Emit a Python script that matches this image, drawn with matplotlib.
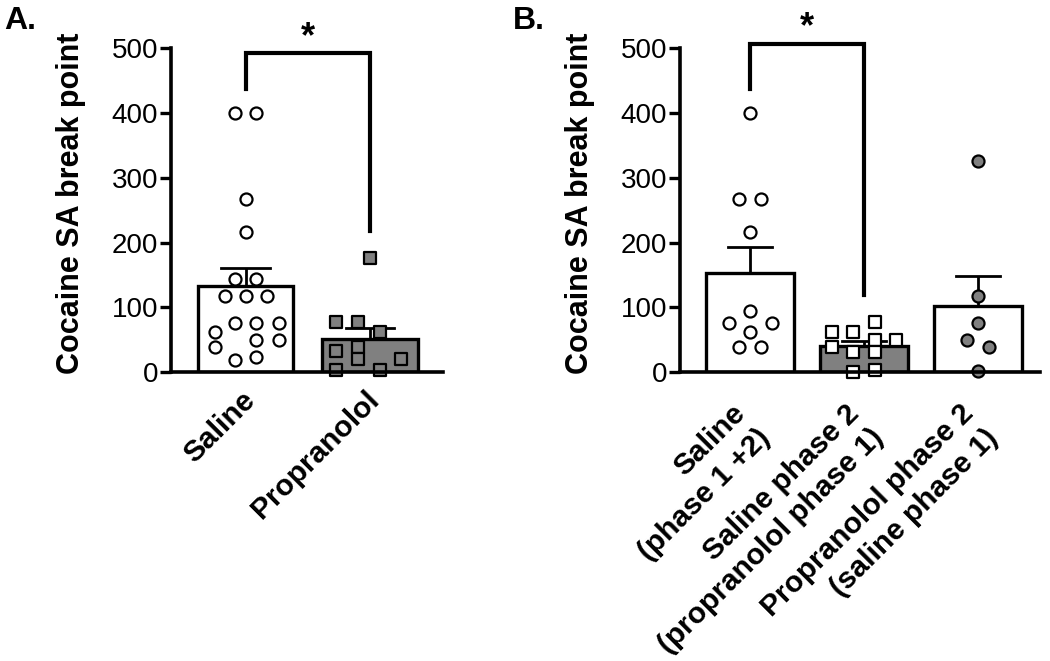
import numpy as np
import matplotlib
matplotlib.use("Agg")
import matplotlib.pyplot as plt
from matplotlib.transforms import ScaledTranslation

plt.rcParams['font.family'] = ['Liberation Sans', 'DejaVu Sans']

# ---------------- data ----------------
a_labels = ["Saline", "Propranolol"]
a_saline = [400, 400, 267, 217, 144, 144, 117, 117, 117, 76, 76, 76, 62, 49, 49, 39, 24, 19]
a_saline_dx = [-0.085, 0.085, 0, 0, -0.085, 0.085, -0.17, 0, 0.175, -0.085, 0.085, 0.265,
               -0.25, 0.085, 0.265, -0.25, 0.085, -0.085]
a_prop = [176, 77, 77, 62, 39, 32, 21, 21, 4, 4]
a_prop_dx = [0, -0.27, -0.095, 0.08, -0.095, -0.27, -0.095, 0.25, -0.27, 0.08]

b_labels = ["Saline\n(phase 1 +2)", "Saline phase 2\n(propranolol phase 1)",
            "Propranolol phase 2\n(saline phase 1)"]
b_sal = [400, 267, 267, 217, 94, 76, 76, 62, 39, 39]
b_sal_dx = [0, -0.094, 0.094, 0, 0, -0.185, 0.19, 0, -0.094, 0.094]
b_sal2 = [77, 62, 62, 49, 49, 39, 31, 31, 4, 0]
b_sal2_dx = [0.096, -0.28, -0.094, 0.096, 0.28, -0.28, -0.094, 0.096, 0.096, -0.094]
b_prop2 = [326, 117, 76, 50, 39, 1]
b_prop2_dx = [0, 0, 0, -0.094, 0.096, 0]

yticks = [0, 100, 200, 300, 400, 500]
ylabel = "Cocaine SA break point"

GREY = "#808080"

fig = plt.figure(figsize=(10.5, 6.61), dpi=100)

def mean_sem(v):
    v = np.asarray(v, float)
    return v.mean(), v.std(ddof=1) / np.sqrt(len(v))

def style_axes(ax, labels, xlim, pad, ls, shift):
    ax.set_ylim(0, 500)
    ax.set_xlim(*xlim)
    for s in ['top', 'right']:
        ax.spines[s].set_visible(False)
    for s in ['left', 'bottom']:
        ax.spines[s].set_linewidth(2.6)
    ax.tick_params(axis='y', direction='out', length=8, width=2.4, pad=1.5)
    ax.tick_params(axis='x', length=0, pad=pad)
    for sp in ax.spines.values():
        sp.set_zorder(6)
    ax.set_yticks(yticks)
    ax.set_yticklabels([str(t) for t in yticks], fontsize=20)
    ax.set_xticks(range(len(labels)))
    ax.set_xticklabels(labels, rotation=45, ha='right', va='top', rotation_mode='anchor',
                       fontsize=21.5, fontweight='bold', multialignment='right',
                       linespacing=ls)
    off = ScaledTranslation(shift[0] / 100, shift[1] / 100, fig.dpi_scale_trans)
    for t in ax.get_xticklabels():
        t.set_transform(t.get_transform() + off)

def draw_group(ax, x, vals, dx, barcolor, marker, mfc):
    m, s = mean_sem(vals)
    ax.bar(x, m, width=0.77, color=barcolor, edgecolor='black', linewidth=2.4, zorder=2)
    ax.plot([x, x], [m, m + s], color='black', lw=2.0, zorder=3, solid_capstyle='butt')
    ax.plot([x - 0.195, x + 0.195], [m + s, m + s], color='black', lw=2.0, zorder=3)
    ax.scatter(x + np.asarray(dx), vals, s=75, marker=marker, facecolor=mfc,
               edgecolor='black', linewidths=1.6, zorder=5, clip_on=False)

def bracket(ax, x1, x2, ytop, yl, yr, star_y):
    ax.plot([x1, x1, x2, x2], [yl, ytop, ytop, yr], color='black', lw=3.0, zorder=4,
            clip_on=False, solid_joinstyle='miter')
    ax.text((x1 + x2) / 2, star_y, "*", ha='center', va='center', fontsize=26,
            fontweight='bold', clip_on=False)

# Panel A
axA = fig.add_axes([0.163, 0.437, 0.259, 0.490])
draw_group(axA, 0, a_saline, a_saline_dx, 'white', 'o', 'white')
draw_group(axA, 1, a_prop, a_prop_dx, GREY, 's', GREY)
style_axes(axA, a_labels, (-0.6, 1.59), 10, 1.0, (-5, 0))
bracket(axA, 0, 1, 492, 437, 218, 516)

# Panel B
axB = fig.add_axes([0.648, 0.437, 0.342, 0.490])
draw_group(axB, 0, b_sal, b_sal_dx, 'white', 'o', 'white')
draw_group(axB, 1, b_sal2, b_sal2_dx, GREY, 's', 'white')
draw_group(axB, 2, b_prop2, b_prop2_dx, 'white', 'o', GREY)
style_axes(axB, b_labels, (-0.61, 2.54), 10, 1.3, (-19, -13))
bracket(axB, 0, 1, 506, 437, 119, 532)

# y-axis titles
fig.text(71 / 1050, 1 - 203 / 661, ylabel, rotation=90, ha='center', va='center',
         fontsize=22, fontweight='bold')
fig.text(580 / 1050, 1 - 203 / 661, ylabel, rotation=90, ha='center', va='center',
         fontsize=22, fontweight='bold')

fig.text(0.004, 0.968, "A.", fontsize=23, fontweight='bold', va='center', ha='left')
fig.text(0.488, 0.968, "B.", fontsize=23, fontweight='bold', va='center', ha='left')

fig.savefig("out.png", dpi=100)
